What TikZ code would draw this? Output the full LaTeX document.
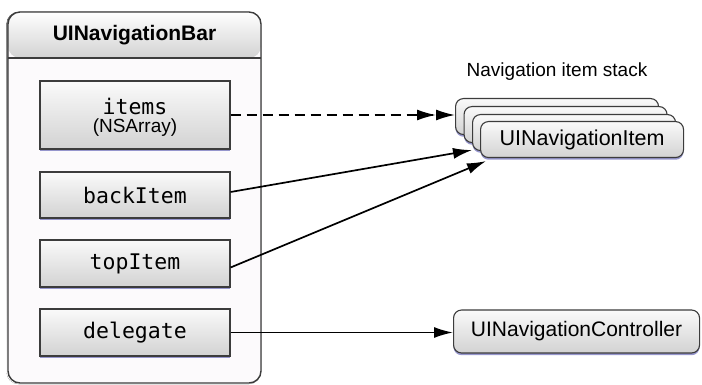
\documentclass[tikz,border=0pt]{standalone}
\usepackage{fontspec}
\setmainfont{Liberation Sans}
\setmonofont{DejaVu Sans Mono}
\usetikzlibrary{arrows.meta,calc}
\definecolor{edge}{RGB}{60,60,60}
\definecolor{shade}{RGB}{150,150,205}
\definecolor{paneltop}{RGB}{250,250,250}
\definecolor{panelbot}{RGB}{210,210,210}
\definecolor{bodyfill}{RGB}{252,250,252}
\tikzset{
  shadowed/.style={preaction={fill=shade,transform canvas={yshift=-2.2pt}}},
  field/.style={draw=edge,line width=1.1pt,shadowed,top color=paneltop,bottom color=panelbot,
    minimum width=190pt,inner sep=0pt,font=\ttfamily\fontsize{21.5}{24}\selectfont,align=center},
  card/.style={draw=edge,line width=1.1pt,rounded corners=8pt,shadowed,top color=paneltop,bottom color=panelbot,
    minimum width=203pt,minimum height=36pt,inner sep=0pt,anchor=north west},
  object/.style={draw=edge,line width=1.1pt,rounded corners=8pt,shadowed,top color=paneltop,bottom color=panelbot,
    inner sep=0pt,font=\fontsize{21}{24}\selectfont},
  link/.style={line width=1.7pt,black,-{Latex[length=19pt,width=11pt]}},
  dlink/.style={line width=1.7pt,black,dash pattern=on 10pt off 6pt,
    -{Latex[length=19pt,width=11pt]Latex[length=19pt,width=11pt]}}
}
\begin{document}
\begin{tikzpicture}[x=1pt,y=-1pt]
\useasboundingbox (0,0) rectangle (702,385);
% outer class box with header
\fill[shade,rounded corners=12pt] (6.5,12) rectangle (261,384);
\fill[bodyfill,rounded corners=12pt] (8,12) rectangle (261,383);
\shade[top color=white,bottom color=panelbot,rounded corners=12pt] (8,12) -- (8,58) -- (261,58) -- (261,12) -- cycle;
\draw[edge,line width=1.4pt] (8,58) -- (261,58);
\draw[edge,line width=1.4pt,rounded corners=12pt] (8,12) rectangle (261,383);
\node[font=\bfseries\fontsize{21}{24}\selectfont] (bar) at (134.5,35) {UINavigationBar};
% property fields
\node[field,minimum height=68pt] (items) at (135,115) {};
\node[font=\ttfamily\fontsize{21.5}{24}\selectfont] (itemsname) at (135,106) {items};
\node[font=\fontsize{19}{22}\selectfont] (itemstype) at (135,128) {(NSArray)};
\node[field,minimum height=46pt] (back) at (135,195) {backItem};
\node[field,minimum height=47pt] (top) at (135,263.5) {topItem};
\node[field,minimum height=47pt] (dlg) at (135,332.5) {delegate};
% navigation item stack
\node[font=\fontsize{19}{22}\selectfont] (stacklabel) at (557,72) {Navigation item stack};
\node[card] (c1) at (455,98) {};
\node[card] (c2) at (463.5,106) {};
\node[card] (c3) at (472,114) {};
\node[card,font=\fontsize{21.5}{24}\selectfont] (c4) at (480,121) {UINavigationItem};
% controller
\node[object,minimum width=246pt,minimum height=43pt,anchor=west] (ctrl) at (453,331.5) {UINavigationController};
% connectors
\draw[dlink] (items.east) -- (items.east -| c1.west);
\draw[link] ($(back.east)+(0,-3)$) -- ($(c3.south west)+(0,-1)$);
\draw[link] ($(top.east)+(0,4)$) -- ($(c4.south west)+(6,3)$);
\draw[link] (dlg.east) -- (dlg.east -| ctrl.west);
\end{tikzpicture}
\end{document}
